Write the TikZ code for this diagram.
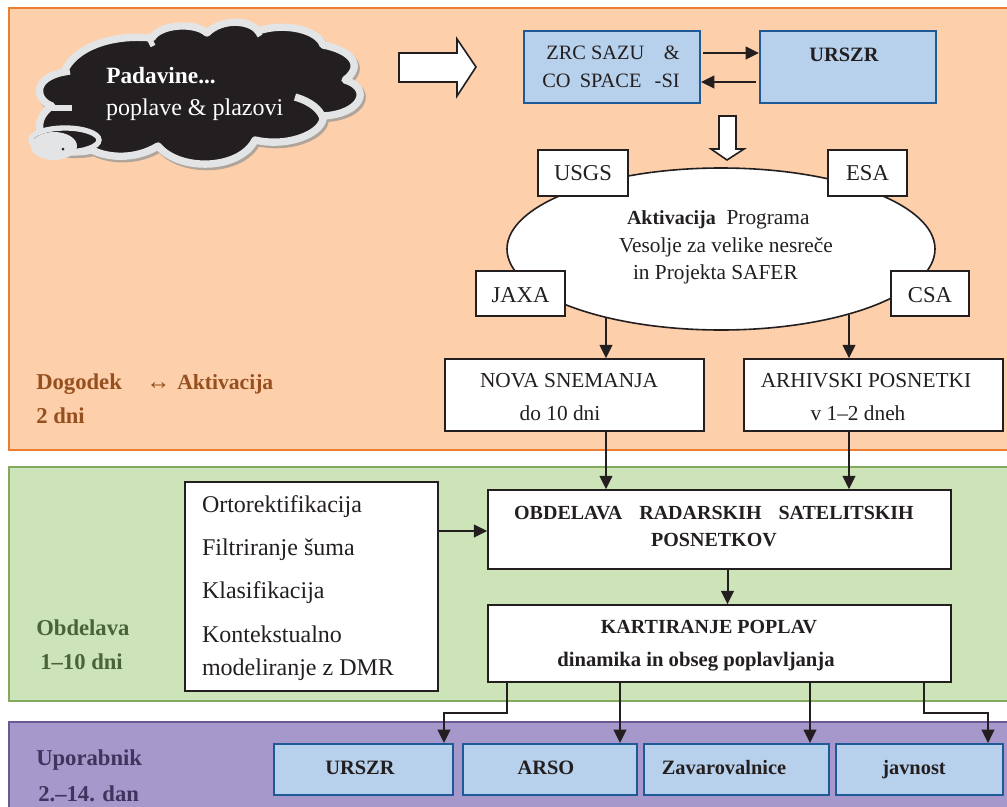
\documentclass[tikz,border=0pt]{standalone}
\usepackage{fontspec}
\setmainfont{Liberation Serif}
\usetikzlibrary{arrows.meta,shapes.geometric}
\definecolor{orfill}{HTML}{FDCFAA}\definecolor{ordraw}{HTML}{ED7D31}
\definecolor{grfill}{HTML}{CDE4B9}\definecolor{grdraw}{HTML}{84A85E}
\definecolor{pufill}{HTML}{A698CA}\definecolor{pudraw}{HTML}{6A5A94}
\definecolor{blfill}{HTML}{B7D0EB}\definecolor{bldraw}{HTML}{1F5A96}
\definecolor{ink}{HTML}{231F20}\definecolor{cloudedge}{HTML}{E3E4E6}\definecolor{cloudshadow}{HTML}{B0A59B}
\definecolor{dogc}{HTML}{96501F}\definecolor{obdc}{HTML}{4A6438}\definecolor{upoc}{HTML}{40335E}
\newcommand{\fsz}[1]{\fontsize{#1}{#1}\selectfont}
\tikzset{
  x=0.75pt,y=-0.75pt,
  panel/.style={draw=#1,line width=1.4pt,inner sep=0,outer sep=0},
  wbox/.style={draw=ink,fill=white,line width=1.2pt},
  bbox/.style={draw=bldraw,fill=blfill,line width=1.4pt},
  conn/.style={draw=ink,line width=1.5pt,-{Triangle[length=10pt,width=9.5pt]}},
  txt/.style={text=ink,font=\fsz{16},inner sep=0,outer sep=0,text height=11pt,text depth=0pt},
  mid/.style={txt,font=\fsz{15.3}},
  big/.style={txt,font=\fsz{17}},
  side/.style={txt,font=\fsz{18}},
  btxt/.style={txt,font=\fsz{15.3}\bfseries},
  lab/.style={font=\fsz{17}\bfseries,inner sep=0,anchor=west,text height=11pt,text depth=0pt},
  bigarrow/.style={draw=ink,fill=white,line width=1.2pt,line join=miter},
}
\newcommand{\cloudpath}{(64,72) .. controls (74,48) and (110,34) .. (152,38)
 .. controls (160,24) and (195,22) .. (207,33) .. controls (222,18) and (250,20) .. (258,31)
 .. controls (285,22) and (318,30) .. (323,45) .. controls (350,50) and (365,65) .. (345,80)
 .. controls (372,88) and (362,114) .. (323,116) .. controls (325,132) and (290,148) .. (255,140)
 .. controls (240,170) and (180,172) .. (158,146) .. controls (135,160) and (108,158) .. (92,150)
 .. controls (70,155) and (35,150) .. (43,138) .. controls (35,125) and (42,112) .. (52,106)
 .. controls (35,100) and (32,78) .. (64,72) -- cycle}
\begin{document}
\begin{tikzpicture}
\useasboundingbox (0,0) rectangle (1007,807);
\fill[white] (0,0) rectangle (1007,807);
% panels
\draw[panel=ordraw,fill=orfill] (9,8) rectangle (1010,450);
\draw[panel=grdraw,fill=grfill] (9,467) rectangle (1010,701);
\draw[panel=pudraw,fill=pufill] (9,722) rectangle (1010,812);
% cloud
\begin{scope}[shift={(2,2.5)}]
\fill[cloudshadow,draw=cloudshadow,line width=5.5pt] \cloudpath;
\end{scope}
\draw[cloudedge,fill=ink,line width=5.5pt,line join=round] \cloudpath;
\draw[cloudedge,line width=5.5pt,line cap=butt] (295,97) .. controls (312,102) and (320,110) .. (323,118);
\draw[cloudedge,line width=4pt] (52,108) -- (72,108);
\draw[cloudedge,line width=4pt] (64,73) -- (70,72);
\draw[cloudedge,line width=4pt] (150,40) -- (153,46);
\draw[cloudedge,line width=4pt] (257,31) -- (260,36);
\draw[cloudedge,fill=ink,line width=4pt] (65,140) ellipse (34 and 12);
\fill[cloudedge] (54,146) ellipse (23 and 14);
\fill[ink] (63,149) circle (1.5);
\node[lab,text=white,font=\fsz{17.5}\bfseries] (padavine) at (106,76) {Padavine...};
\node[side,text=white,anchor=west] (poplave) at (106,108) {poplave \& plazovi};
% big arrows
\path[bigarrow] (399,53) -- (457,53) -- (457,39) -- (476,67) -- (457,96) -- (457,82) -- (399,82) -- cycle;
\path[bigarrow] (719,116) -- (736,116) -- (736,149) -- (744,149) -- (727,160) -- (711,149) -- (719,149) -- cycle;
% blue top boxes
\node[bbox,minimum width=176*0.75pt,minimum height=72*0.75pt,inner sep=0] (zrc) at (612,67) {};
\node[bbox,minimum width=176*0.75pt,minimum height=72*0.75pt,inner sep=0] (urszra) at (848,67) {};
\node[mid] (zrc1) at (613,52.5) {ZRC SAZU\hspace{0.7em} \&};
\node[mid] (zrc2) at (611,80) {CO\hspace{0.2em} SPACE\hspace{0.4em} -SI};
\node[btxt] (urszra1) at (844,54) {URSZR};
\coordinate (za) at (703,53); \coordinate (zb) at (701,82);
\draw[conn] (za) -- (za -| urszra.west);
\draw[conn] (756,82) -- (zb);
% ellipse
\node[ellipse,draw=ink,fill=white,line width=1.2pt,minimum width=428*0.75pt,minimum height=162*0.75pt,inner sep=0] (act) at (721,249) {};
\node[wbox,minimum width=90*0.75pt,minimum height=46*0.75pt,inner sep=0,big] (usgs) at (583,173) {USGS};
\node[wbox,minimum width=79*0.75pt,minimum height=46*0.75pt,inner sep=0,big] (esa) at (867.5,173) {ESA};
\node[wbox,minimum width=89*0.75pt,minimum height=45*0.75pt,inner sep=0,big,text height=13pt] (jaxa) at (520.5,293.5) {JAXA};
\node[wbox,minimum width=78*0.75pt,minimum height=45*0.75pt,inner sep=0,big,text height=13pt] (csa) at (930,293.5) {CSA};
\node[txt,anchor=west] (act1) at (627,217) {{\fsz{15}\bfseries Aktivacija}\hspace{0.25em} Programa};
\node[txt,anchor=west] (act2) at (619,245) {Vesolje za velike nesreče};
\node[txt,anchor=west] (act3) at (633,272) {in Projekta SAFER};
% nova / arhiv
\node[wbox,minimum width=259*0.75pt,minimum height=72*0.75pt,inner sep=0] (nova) at (574.5,395) {};
\node[wbox,minimum width=259*0.75pt,minimum height=72*0.75pt,inner sep=0] (arh) at (873.5,395) {};
\node[txt] (nova1) at (569,380) {NOVA SNEMANJA};
\node[txt] (nova2) at (560,413) {do 10 dni};
\node[txt] (arh1) at (866,380) {ARHIVSKI POSNETKI};
\node[txt] (arh2) at (858,413) {v 1--2 dneh};
\coordinate (e1) at (606,317); \coordinate (e2) at (849,315);
\draw[conn] (e1) -- (e1 |- nova.north);
\draw[conn] (e2) -- (e2 |- arh.north);
% panel labels
\node[lab,text=dogc] (dog) at (36,382) {Dogodek};
\node[lab,text=dogc,font=\fsz{18}] (dogar) at (146,382) {↔};
\node[lab,text=dogc,font=\fsz{16.2}\bfseries] (dogak) at (177,382) {Aktivacija};
\node[lab,text=dogc] (dog2) at (36,416) {2 dni};
\node[lab,text=obdc] (obd1) at (36,628) {Obdelava};
\node[lab,text=obdc] (obd2) at (40,662) {1--10 dni};
\node[lab,text=upoc] (upo1) at (36,758) {Uporabnik};
\node[lab,text=upoc] (upo2) at (38,794) {2.--14. dan};
% green boxes
\node[wbox,minimum width=253*0.75pt,minimum height=209*0.75pt,inner sep=0] (meth) at (311.5,586.5) {};
\node[side,anchor=west] (m1t) at (202,505) {Ortorektifikacija};
\node[side,anchor=west] (m2t) at (202,548) {Filtriranje šuma};
\node[side,anchor=west] (m3t) at (202,591) {Klasifikacija};
\node[side,anchor=west] (m4t) at (202,635) {Kontekstualno};
\node[side,anchor=west] (m5t) at (202,668) {modeliranje z DMR};
\node[wbox,minimum width=463*0.75pt,minimum height=79*0.75pt,inner sep=0] (obd) at (719.5,529.5) {};
\node[btxt,font=\fsz{15}\bfseries] (obd1t) at (714,512) {OBDELAVA\hspace{0.6em} RADARSKIH\hspace{0.6em} SATELITSKIH};
\node[btxt,font=\fsz{15}\bfseries] (obd2t) at (714,539) {POSNETKOV};
\node[wbox,minimum width=463*0.75pt,minimum height=77*0.75pt,inner sep=0] (kart) at (719.5,643.5) {};
\node[btxt,font=\fsz{15}\bfseries] (k1t) at (709,626) {KARTIRANJE POPLAV};
\node[btxt,font=\fsz{15.5}\bfseries] (k2t) at (696,659) {dinamika in obseg poplavljanja};
\draw[conn] (nova.south -| e1) -- (e1 |- obd.north);
\draw[conn] (arh.south -| e2) -- (e2 |- obd.north);
\coordinate (m1) at (438,531);
\draw[conn] (m1) -- (m1 -| obd.west);
\coordinate (k0) at (727.5,569);
\draw[conn] (k0) -- (k0 |- kart.north);
% users
\node[bbox,minimum width=179*0.75pt,minimum height=51*0.75pt,inner sep=0] (u1) at (363.5,769.5) {};
\node[bbox,minimum width=174*0.75pt,minimum height=51*0.75pt,inner sep=0] (u2) at (550,769.5) {};
\node[bbox,minimum width=185*0.75pt,minimum height=51*0.75pt,inner sep=0] (u3) at (736.5,769.5) {};
\node[bbox,minimum width=167*0.75pt,minimum height=51*0.75pt,inner sep=0] (u4) at (919.5,769.5) {};
\node[btxt] (u1t) at (360,767) {URSZR};
\node[btxt] (u2t) at (546,767) {ARSO};
\node[btxt] (u3t) at (724,767) {Zavarovalnice};
\node[btxt] (u4t) at (914,767) {javnost};
\coordinate (k1) at (507,682); \coordinate (k2) at (620,682); \coordinate (k3) at (810,682); \coordinate (k4) at (924,682);
\coordinate (a1) at (444,713); \coordinate (a4) at (988,713);
\draw[conn] (k1) |- (a1) -- (a1 |- u1.north);
\draw[conn] (k2) -- (k2 |- u2.north);
\draw[conn] (k3) -- (k3 |- u3.north);
\draw[conn] (k4) |- (a4) -- (a4 |- u4.north);
\end{tikzpicture}
\end{document}
